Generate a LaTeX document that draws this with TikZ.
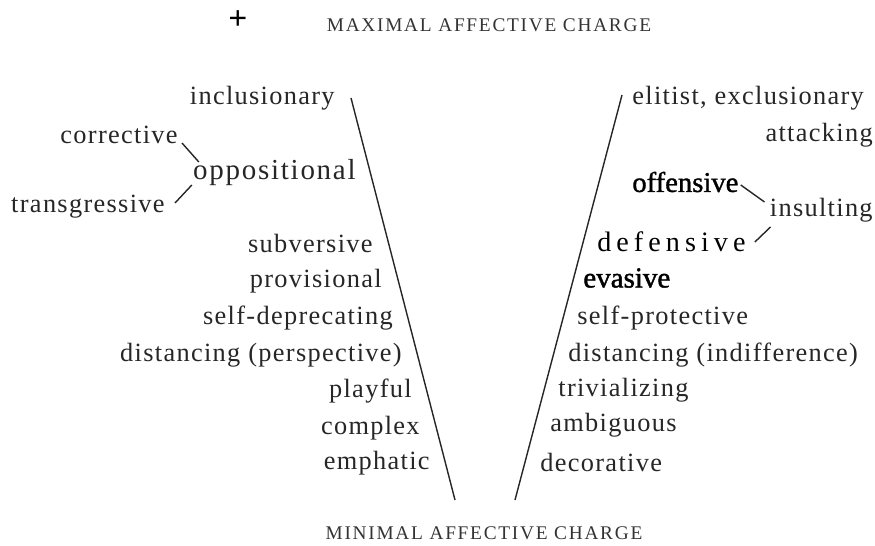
\documentclass[tikz,border=0pt]{standalone}
\usepackage{fontspec}
\setmainfont{Liberation Serif}
\usepackage{tikz}
\usetikzlibrary{calc}

\newcommand\wordfont{\fontsize{15}{17}\selectfont\addfontfeature{LetterSpace=5}}
\newcommand\capsfont{\fontsize{11}{13}\selectfont\addfontfeature{LetterSpace=9}}

\tikzset{
	lft/.style={anchor=east, inner sep=0pt, text=black!85, font=\wordfont},
	rgt/.style={anchor=west, inner sep=0pt, text=black!85, font=\wordfont},
	heading/.style={inner sep=0pt, text=black!80, font=\capsfont},
	vline/.style={line width=0.8pt, black!85},
	link/.style={line width=0.8pt, black!85}
}

\begin{document}
\begin{tikzpicture}[x=0.02cm, y=-0.02cm]
				\useasboundingbox (0,0) rectangle (875,546);

				\node[inner sep=0pt, font=\fontsize{19}{20}\selectfont\bfseries] (plus) at (238,20) {+};
				\node[heading] (maxc) at (489,25) {MAXIMAL AFFECTIVE CHARGE};
				\node[heading] (minc) at (484,533) {MINIMAL AFFECTIVE CHARGE};

				\coordinate (ltop) at (351,98);
				\coordinate (lbot) at (455,500);
				\coordinate (rtop) at (622,95);
				\coordinate (rbot) at (515,500);
				\draw[vline] (ltop) -- (lbot);
				\draw[vline] (rtop) -- (rbot);

				% left side
				\node[lft] (incl) at (335,98) {inclusionary};
				\node[lft] (corr) at (178,135) {corrective};
				\node[lft, font=\fontsize{16.5}{18}\selectfont\addfontfeature{LetterSpace=6}] (opp) at (356,173) {oppositional};
				\node[lft] (trans) at (165,207) {transgressive};
				\node[lft] (subv) at (373,243) {subversive};
				\node[lft] (prov) at (382,281) {provisional};
				\node[lft] (selfdep) at (393,318) {self-deprecating};
				\node[lft] (distp) at (402,355) {distancing (perspective)};
				\node[lft] (play) at (412,391) {playful};
				\node[lft] (cplx) at (420,428) {complex};
				\node[lft] (emph) at (430,463) {emphatic};

				% right side
				\node[rgt] (elit) at (632,98) {elitist, exclusionary};
				\node[lft] (att) at (873,135) {attacking};
				\node[rgt, text=black, font=\fontsize{16.3}{18}\selectfont\addfontfeature{FakeBold=1.2}] (off) at (632,182) {offensive};
				\node[lft] (ins) at (873,210) {insulting};
				\node[rgt, text=black, font=\fontsize{16}{18}\selectfont\addfontfeature{LetterSpace=18}] (def) at (597,242) {defensive};
				\node[rgt, text=black, font=\fontsize{16.5}{18}\selectfont\addfontfeature{FakeBold=1.5}] (eva) at (583,278) {evasive};
				\node[rgt] (selfprot) at (577,318) {self-protective};
				\node[rgt] (disti) at (568,355) {distancing (indifference)};
				\node[rgt] (triv) at (558,390) {trivializing};
				\node[rgt] (amb) at (550,425) {ambiguous};
				\node[rgt] (deco) at (540,462) {decorative};

				\draw[link] ($(corr.east)+(4,8)$) -- ($(opp.west)+(6,-11)$);
				\draw[link] ($(trans.east)+(10,-4)$) -- ($(opp.west)+(-1,12)$);
				\draw[link] ($(off.east)+(2,3)$) -- ($(ins.west)+(-5,-8)$);
				\draw[link] ($(def.east)+(9,0)$) -- ($(ins.west)+(1,17)$);
\end{tikzpicture}
\end{document}
